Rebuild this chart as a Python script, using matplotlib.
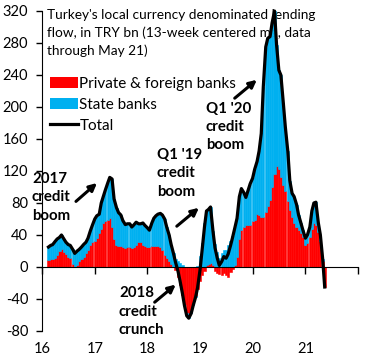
import matplotlib

matplotlib.use("Agg")
import matplotlib.pyplot as plt
import numpy as np
import pandas as pd
from matplotlib.lines import Line2D
from matplotlib.patches import Patch

plt.rcParams["font.family"] = ["Lato", "DejaVu Sans"]
plt.rcParams["axes.unicode_minus"] = False

# semi-monthly readings, 15 Feb 2016 .. 15 May 2021 (TRY bn)
dates = pd.date_range("2016-02-15", periods=127, freq="SMS")

total = [
    25, 27, 28, 32, 35, 37, 40, 35, 31, 28,
    27, 22, 17, 20, 22, 25, 28, 31, 36, 45,
    52, 60, 64, 66, 80, 88, 96, 105, 112, 110,
    85, 74, 68, 65, 58, 53, 54, 54, 50, 53,
    56, 54, 54, 55, 52, 49, 46, 55, 61, 64,
    66, 67, 65, 60, 50, 40, 28, 17, 6, -5,
    -17, -33, -48, -61, -64, -58, -48, -38, -26, -4,
    20, 50, 70, 72, 75, 45, 24, 11, 2, 7,
    13, 11, 16, 27, 37, 50, 61, 88, 98, 93,
    87, 96, 104, 111, 122, 132, 145, 167, 225, 275,
    286, 288, 305, 320, 278, 246, 240, 205, 175, 145,
    108, 92, 88, 78, 65, 55, 46, 36, 40, 50,
    70, 80, 81, 55, 40, 10, -25,
]

private = [
    9, 10, 10, 11, 15, 20, 22, 19, 16, 13,
    11, 4, 0, 2, 7, 10, 13, 17, 21, 28,
    31, 32, 36, 42, 48, 55, 57, 59, 61, 50,
    35, 27, 26, 26, 25, 24, 25, 25, 24, 25,
    28, 31, 31, 27, 26, 25, 25, 26, 26, 26,
    26, 25, 21, 15, 11, 7, 4, 0, -4, -12,
    -22, -35, -47, -57, -60, -55, -45, -36, -27, -18,
    -10, -5, 2, 4, 5, 3, -5, -8, -9, -10,
    -8, -10, -12, -6, -2, 3, 12, 35, 46, 50,
    52, 52, 53, 57, 59, 66, 65, 62, 62, 69,
    76, 84, 100, 116, 126, 122, 113, 103, 95, 82,
    71, 62, 55, 50, 46, 43, 38, 28, 30, 37,
    47, 55, 53, 44, 32, 8, -25,
]

year_ticks = [2016, 2017, 2018, 2019, 2020, 2021, 2022]
year_labels = ["16", "17", "18", "19", "20", "21", ""]
y_ticks = [-80, -40, 0, 40, 80, 120, 160, 200, 240, 280, 320]

RED = "#FF0000"
BLUE = "#00B0F0"

tot = np.asarray(total, dtype=float)
priv = np.asarray(private, dtype=float)
state = tot - priv
# Excel-style stacking: positives pile up, negatives pile down
state_base = np.where(state >= 0, np.maximum(priv, 0), np.minimum(priv, 0))

fig = plt.figure(figsize=(3.83, 3.6), dpi=100)
ax = fig.add_axes([42 / 383, 1 - 331 / 360, 316 / 383, 320 / 360])

width = 15.2
ax.bar(dates, priv, width=width, color=RED, edgecolor=RED, linewidth=0.4, zorder=2)
ax.bar(dates, state, bottom=state_base, width=width, color=BLUE, edgecolor=BLUE,
       linewidth=0.4, zorder=2)
ax.plot(dates, tot, color="black", lw=2.3, solid_joinstyle="round", zorder=3, clip_on=False)

ax.set_xlim(pd.Timestamp("2016-01-01"), pd.Timestamp("2022-01-01"))
ax.set_ylim(-80, 320)
ax.set_yticks(y_ticks)
ax.set_xticks([pd.Timestamp(f"{y}-01-01") for y in year_ticks])
ax.set_xticklabels(year_labels)

for s in ("top", "right"):
    ax.spines[s].set_visible(False)
ax.spines["bottom"].set_position(("data", 0))
ax.spines["bottom"].set_zorder(4)
ax.tick_params(axis="y", direction="out", length=4, width=1, pad=6, labelsize=10.5)
ax.tick_params(axis="x", direction="out", length=5, width=1, pad=49, labelsize=10.5)

ax.text(
    0.015, 1.005,
    "Turkey's local currency denominated lending\nflow, in TRY bn (13-week centered ma, data\nthrough May 21)",
    transform=ax.transAxes, ha="left", va="top", fontsize=9.8, linespacing=1.5, zorder=1,
)

handles = [
    Patch(facecolor=RED, edgecolor="none"),
    Patch(facecolor=BLUE, edgecolor="none"),
    Line2D([0], [0], color="black", lw=2.3),
]
fig.legend(
    handles, ["Private & foreign banks", "State banks", "Total"],
    loc="upper left", bbox_to_anchor=(50 / 383, 1 - 77 / 360), frameon=False,
    fontsize=11, handlelength=1.8, handleheight=0.7, handletextpad=0.12,
    labelspacing=0.45, borderpad=0, borderaxespad=0,
)


def yr(v):
    return pd.Timestamp("2016-01-01") + pd.Timedelta(days=(v - 2016) * 365.25)


notes = [
    ("2017\ncredit\nboom", 2015.81, 87, (2016.645, 82), (2017.044, 105)),
    ("Q1 '19\ncredit\nboom", 2018.18, 117, (2018.56, 51), (2018.98, 74)),
    ("Q1 '20\ncredit\nboom", 2019.11, 175, (2019.66, 211), (2020.08, 234)),
    ("2018\ncredit\ncrunch", 2017.46, -56, (2018.14, -44), (2018.54, -22)),
]
for label, x, y, start, end in notes:
    ax.text(yr(x), y, label, ha="left", va="center", fontsize=10.8,
            fontweight="bold", linespacing=1.4, zorder=5, clip_on=False)
    ax.annotate(
        "", xy=(yr(end[0]), end[1]), xytext=(yr(start[0]), start[1]),
        arrowprops=dict(arrowstyle="-|>", color="black", lw=2.2,
                        mutation_scale=11, shrinkA=0, shrinkB=0),
        zorder=5,
    )

fig.savefig("out.png", dpi=100)
plt.close(fig)
